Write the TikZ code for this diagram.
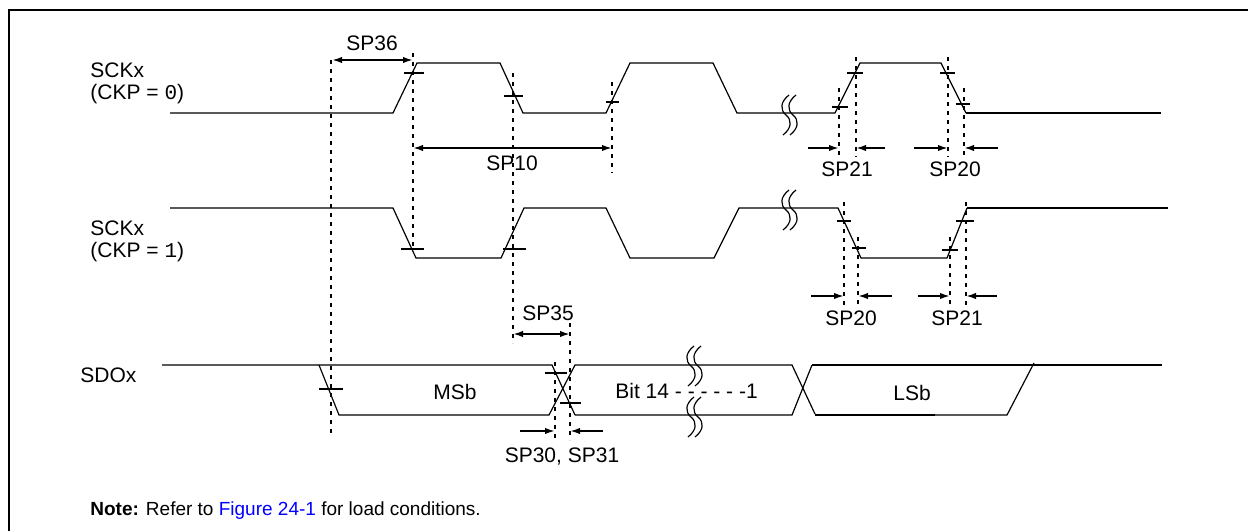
\documentclass[tikz,border=0pt]{standalone}
\usepackage{fontspec}
\setmainfont{Liberation Sans}
\setmonofont{Liberation Mono}
\usepackage{xcolor}
\usepackage{tikz}
\usetikzlibrary{arrows.meta}
\definecolor{linkblue}{RGB}{0, 0, 255}
\tikzset{>={Latex[length=5pt,width=3.2pt]}}
\tikzset{
  wave/.style = {line width=0.6pt},
  tail/.style = {line width=1pt},
  guideline/.style = {line width=0.8pt, dash pattern=on 2pt off 2.5pt},
  tickmark/.style = {line width=0.9pt},
  dimarrow/.style = {line width=0.9pt},
  lbl/.style = {inner sep=0pt, font=\fontsize{10.5}{12.6}\selectfont}
}
\newcommand{\wavebreak}[2]{
  \foreach \dx in {0,7}{
    \draw[wave] (#1+\dx+3,#2-20) .. controls (#1+\dx-6,#2-13) and (#1+\dx-6,#2-5) .. (#1+\dx,#2)
      .. controls (#1+\dx+6,#2+5) and (#1+\dx+6,#2+13) .. (#1+\dx-3,#2+20);
  }
}

\begin{document}
\begin{tikzpicture}[x=0.5pt, y=-0.5pt]
  \useasboundingbox (0,0) rectangle (1248,531);
  \draw[line width=1.3pt] (9,531) -- (9,10) -- (1248,10);

  \node[lbl, anchor=base west] (sck0) at (90,77) {SCKx};
  \node[lbl, anchor=base west] (ckp0) at (90,99) {(CKP = \texttt{0})};
  \node[lbl, anchor=base west] (sck1) at (90,235) {SCKx};
  \node[lbl, anchor=base west] (ckp1) at (90,257) {(CKP = \texttt{1})};
  \node[lbl, anchor=base west] (sdo) at (80,382) {SDOx};

  \draw[wave] (170,113) -- (393,113) -- (417,63) -- (500,63) -- (523,113) -- (606,113) -- (630,63)
    -- (713,63) -- (737,113) -- (835,113) -- (860,63) -- (941,63) -- (966,113);
  \draw[tail] (966,113) -- (1161,113);
  \draw[wave] (170,208) -- (393,208) -- (416,258) -- (501,258) -- (524,208) -- (606,208) -- (630,258)
    -- (714,258) -- (739,208) -- (838,208) -- (861,258) -- (947,258) -- (967,208);
  \draw[tail] (967,208) -- (1168,208);
  \draw[wave] (162,365) -- (552,365) -- (575,415);
  \draw[wave] (319,365) -- (339,415) -- (549,415) -- (575,365) -- (792,365) -- (815,414);
  \draw[wave] (575,415) -- (792,415) -- (812,365);
  \draw[tail] (812,365) -- (1162,365);
  \draw[tail] (815,415) -- (935,415);
  \draw[wave] (935,415) -- (1007,415) -- (1034,363);
  \wavebreak{786}{115}
  \wavebreak{786}{210}
  \wavebreak{691}{366}
  \wavebreak{691}{417}

  \draw[tickmark] (404,73) -- (424,73);
  \draw[tickmark] (504,96) -- (523,96);
  \draw[tickmark] (606,102) -- (619,102);
  \draw[tickmark] (832,107) -- (848,107);
  \draw[tickmark] (847,73) -- (863,73);
  \draw[tickmark] (940,73) -- (955,73);
  \draw[tickmark] (956,104) -- (970,104);
  \draw[tickmark] (401,249) -- (424,249);
  \draw[tickmark] (503,249) -- (526,249);
  \draw[tickmark] (837,221) -- (851,221);
  \draw[tickmark] (852,248) -- (866,248);
  \draw[tickmark] (942,250) -- (958,250);
  \draw[tickmark] (956,221) -- (974,221);
  \draw[tickmark] (319,389) -- (343,389);
  \draw[tickmark] (545,373) -- (567,373);
  \draw[tickmark] (560,403) -- (581,403);

  \draw[guideline] (331,60) -- (331,437);
  \draw[guideline] (413,53) -- (413,247);
  \draw[guideline] (513,73) -- (513,343);
  \draw[guideline] (612,82) -- (612,173);
  \draw[guideline] (570,323) -- (570,440);
  \draw[guideline] (555,362) -- (555,440);
  \draw[guideline] (839,88) -- (839,157);
  \draw[guideline] (856,57) -- (856,157);
  \draw[guideline] (948,57) -- (948,157);
  \draw[guideline] (964,88) -- (964,157);
  \draw[guideline] (844,202) -- (844,306);
  \draw[guideline] (858,237) -- (858,306);
  \draw[guideline] (950,237) -- (950,306);
  \draw[guideline] (966,202) -- (966,306);

  \draw[dimarrow, <->] (332,60) -- (413,60);
  \draw[dimarrow, <->] (413,148) -- (612,148);
  \draw[dimarrow, <->] (513,334) -- (570,334);
  \draw[dimarrow, ->] (808,148) -- (839,148);
  \draw[dimarrow, ->] (885,148) -- (856,148);
  \draw[dimarrow, ->] (914,148) -- (948,148);
  \draw[dimarrow, ->] (998,148) -- (964,148);
  \draw[dimarrow, ->] (811,296) -- (844,296);
  \draw[dimarrow, ->] (892,296) -- (858,296);
  \draw[dimarrow, ->] (918,296) -- (950,296);
  \draw[dimarrow, ->] (997,296) -- (966,296);
  \draw[dimarrow, ->] (520,431) -- (555,431);
  \draw[dimarrow, ->] (603,431) -- (570,431);

  \node[lbl, anchor=base] (sp36) at (372,50) {SP36};
  \node[lbl, anchor=base] (sp10) at (512,170) {SP10};
  \node[lbl, anchor=base] (sp21a) at (847,176) {SP21};
  \node[lbl, anchor=base] (sp20a) at (955,176) {SP20};
  \node[lbl, anchor=base] (sp20b) at (851,325) {SP20};
  \node[lbl, anchor=base] (sp21b) at (957,325) {SP21};
  \node[lbl, anchor=base] (sp35) at (548,320) {SP35};
  \node[lbl, anchor=base] (sp3031) at (562,462) {SP30, SP31};
  \node[lbl, anchor=base] (msb) at (455,399) {MSb};
  \node[lbl, anchor=base] (lsb) at (912,400) {LSb};
  \node[lbl, anchor=base west] (bits) at (615,398) {Bit 14 - - - - - -1};
  \node[lbl, anchor=base west, font=\fontsize{9.5}{11.4}\selectfont] (note) at (90,515)
    {\textbf{Note:} Refer to \textcolor{linkblue}{Figure 24-1} for load conditions.};
\end{tikzpicture}
\end{document}
